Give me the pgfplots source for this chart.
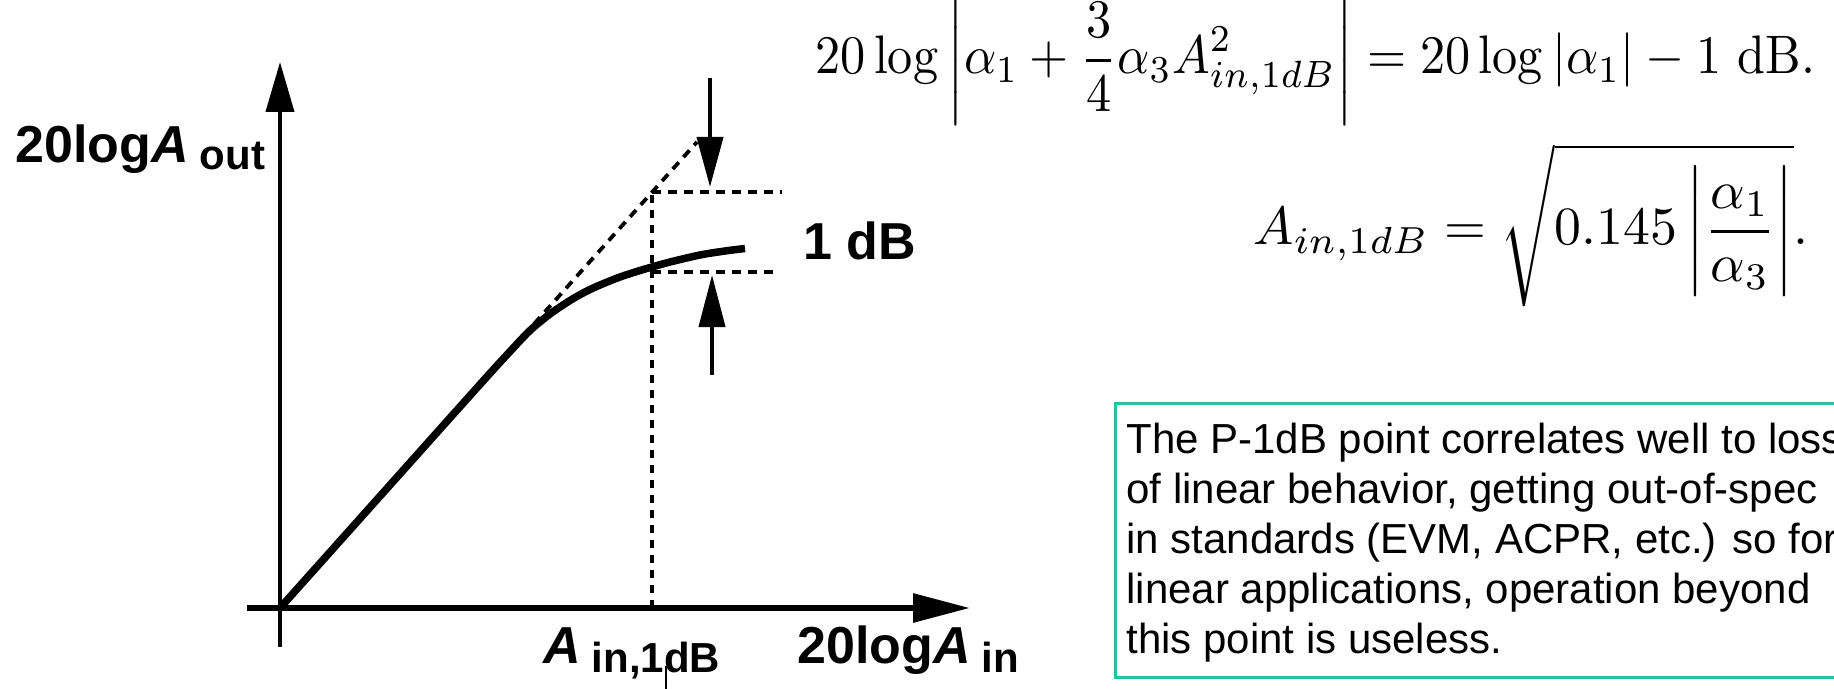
\documentclass[border=0pt]{standalone}
\usepackage[no-math]{fontspec}
\newfontfamily\arial{Liberation Sans}
\usepackage{amsmath}
\usepackage{graphicx}
\usepackage{pgfplots}
\pgfplotsset{compat=1.18}
\usetikzlibrary{arrows.meta}
\definecolor{boxteal}{RGB}{45,190,160}
\newcommand\lab{\arial\bfseries\fontsize{26pt}{30pt}\selectfont}
\newcommand\labsub{\fontsize{21pt}{24pt}\selectfont}
\newcommand\note{\arial\fontsize{21pt}{25pt}\selectfont}
\begin{document}
\begin{tikzpicture}
\useasboundingbox (0pt,0pt) rectangle (917pt,-344.5pt);
% transfer curve of a compressive amplifier, in units of half points from the origin
\begin{axis}[
  at={(123.5pt,-323.5pt)}, anchor=south west,
  scale only axis, width=361.5pt, height=292.5pt,
  xmin=-33, xmax=690, ymin=-39, ymax=546,
  axis lines=middle, xtick=\empty, ytick=\empty,
  clip=false,
  x axis line style={line width=3pt, -{Triangle[length=28.5pt, width=14pt]}},
  y axis line style={line width=2pt, -{Triangle[length=25pt, width=14pt]}},
]
% output level versus input level
\addplot[black, line width=3.75pt, smooth, tension=0.5] coordinates {
  (0,0) (100,111.8) (200,223.6) (230,256.5) (250,277.5) (270,294)
  (290,307.5) (305,316) (320,323) (340,331) (360,337.5) (372,341)
  (390,346) (420,353) (445,357) (465,359.5)
};
% extrapolated linear gain
\addplot[black, line width=1.9pt, dash pattern=on 4.5pt off 3.5pt] coordinates {(254,284) (417,466)};
% 1 dB compression point markers
\addplot[black, line width=1.9pt, dash pattern=on 4pt off 3.5pt] coordinates {(372,0) (372,416)};
\addplot[black, line width=1.9pt, dash pattern=on 4.5pt off 3.5pt] coordinates {(372,416) (502,416)};
\addplot[black, line width=1.9pt, dash pattern=on 4.5pt off 3.5pt] coordinates {(372,336) (500,336)};
\addplot[black, line width=2pt, -{Triangle[length=25pt, width=13pt]}] coordinates {(430,530) (430,421)};
\addplot[black, line width=2pt, -{Triangle[length=26pt, width=13pt]}] coordinates {(432,233) (432,333)};
\addplot[black, line width=1pt] coordinates {(386,-58) (386,-82)};
\end{axis}
\begin{scope}[x=0.5pt, y=-0.5pt]
\node[anchor=base west, inner sep=0pt] at (15,163) {\lab 20log\textit{A}\hspace{5.5pt}\raisebox{-3.5pt}{\labsub out}};
\node[anchor=base west, inner sep=0pt] at (803,260) {\lab 1 dB};
\node[anchor=base west, inner sep=0pt] at (543,663) {\lab\textit{A}\hspace{5.5pt}\raisebox{-4.5pt}{\labsub in,1dB}};
\node[anchor=base west, inner sep=0pt] at (797,663) {\lab 20log\textit{A}\hspace{5.5pt}\raisebox{-4.5pt}{\labsub in}};
% compression condition (set slightly tall) and the resulting input level
\node[anchor=base west, inner sep=0pt] at (815,74) {\scalebox{1}[1.08]{\resizebox{500pt}{!}{$\displaystyle 20\log\left|\alpha_1+\frac{3}{4}\alpha_3A_{in,1dB}^2\right| = 20\log|\alpha_1| - 1\ \mathrm{dB}.$}}};
\node[anchor=base west, inner sep=0pt] at (1253,245) {\resizebox{277.5pt}{!}{$\displaystyle A_{in,1dB} = \sqrt{0.145\left|\frac{\alpha_1}{\alpha_3}\right|}.$}};
% remark box
\draw[boxteal, line width=1.5pt] (1115,403) rectangle (1870,677);
\node[anchor=base west, inner sep=0pt] at (1126,453) {\note The P-1dB point correlates well to loss};
\node[anchor=base west, inner sep=0pt] at (1126,503) {\note of linear behavior, getting out-of-spec};
\node[anchor=base west, inner sep=0pt] at (1126,553) {\note in standards (EVM, ACPR, etc.) so for};
\node[anchor=base west, inner sep=0pt] at (1126,603) {\note linear applications, operation beyond};
\node[anchor=base west, inner sep=0pt] at (1126,653) {\note this point is useless.};
\end{scope}
\end{tikzpicture}
\end{document}
